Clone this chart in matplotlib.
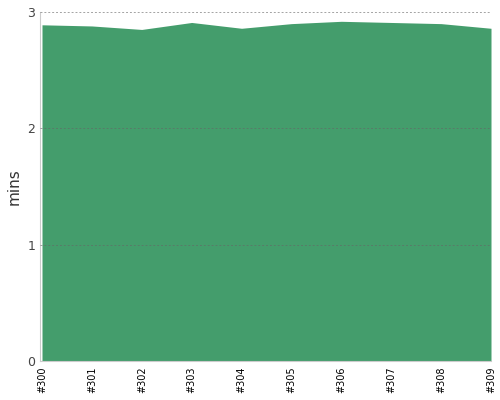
import matplotlib
matplotlib.use("Agg")
import matplotlib.pyplot as plt

labels = ["#300","#301","#302","#303","#304","#305","#306","#307","#308","#309"]
values = [2.89, 2.88, 2.85, 2.91, 2.86, 2.90, 2.92, 2.91, 2.90, 2.86]

fig, ax = plt.subplots(figsize=(5, 4), dpi=100)
fig.subplots_adjust(left=0.08, right=0.982, top=0.97, bottom=0.0975)
x = list(range(len(labels)))
ax.fill_between(x, values, 0, color="#449d6c", linewidth=0, zorder=2)
ax.set_xlim(-0.04, 9.0)
ax.set_ylim(0, 3.0)
ax.set_yticks([0, 1, 2, 3])
ax.set_xticks(x)
ax.set_xticklabels(labels, rotation=90, fontsize=7)
ax.tick_params(axis="y", labelsize=9, colors="#444444", length=0)
ax.tick_params(axis="x", length=0, pad=4)
ax.grid(axis="y", linestyle=(0, (2, 2)), color="#666666", alpha=0.6, linewidth=0.7, zorder=3)
ax.set_axisbelow(False)
ax.set_ylabel("mins", fontsize=11, color="#333333")
for s in ["top", "right"]:
    ax.spines[s].set_visible(False)
for s in ["left", "bottom"]:
    ax.spines[s].set_color("#cccccc")
fig.savefig("out.png")
